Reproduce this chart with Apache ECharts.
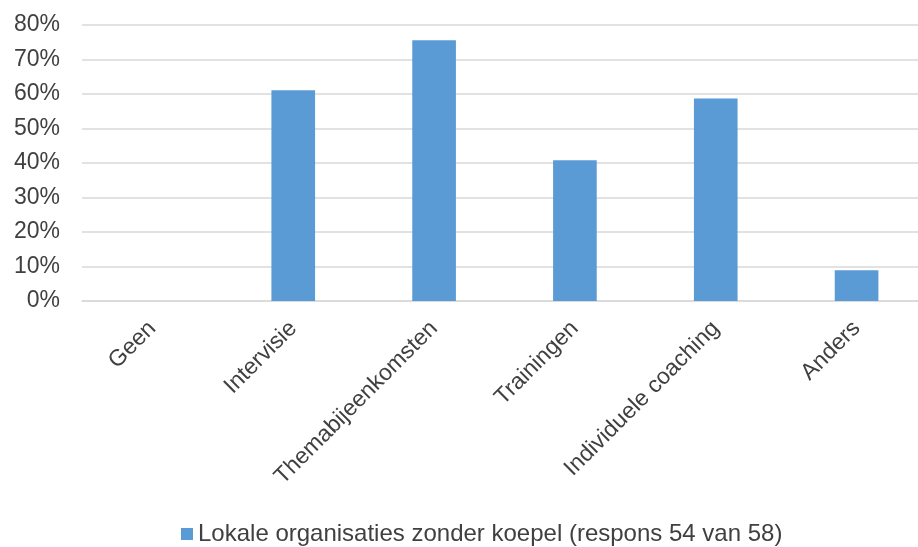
<!DOCTYPE html>
<html>
<head>
<meta charset="utf-8">
<script src="https://cdn.jsdelivr.net/npm/echarts@6/dist/echarts.min.js"></script>
<style>
  html, body { margin: 0; padding: 0; background: #fff; overflow: hidden; }
  /* plot area runs slightly past the right edge of the picture */
  #chart { width: 930px; height: 547px; }
</style>
</head>
<body>
<div id="chart"></div>
<script>
const categories = ['Geen', 'Intervisie', 'Themabijeenkomsten', 'Trainingen', 'Individuele coaching', 'Anders'];
const seriesName = 'Lokale organisaties zonder koepel (respons 54 van 58)';
const values = [0, 61.1, 75.6, 40.8, 58.7, 8.9];
const yTicks = [0, 10, 20, 30, 40, 50, 60, 70, 80];

let myChart = echarts.init(document.getElementById('chart'));

let option = {
    animation: false,
    grid: {
        left: 82,
        top: 25,
        width: 845,
        height: 276
    },
    legend: {
        data: [seriesName],
        left: 176,
        top: 517,
        itemWidth: 12,
        itemHeight: 12,
        itemGap: 4,
        icon: 'rect',
        textStyle: {
            fontFamily: 'Liberation Sans',
            fontSize: 24,
            color: '#404040'
        }
    },
    xAxis: {
        type: 'category',
        data: categories,
        axisLine: { lineStyle: { color: '#d9d9d9', width: 1.5 } },
        axisTick: { show: false },
        axisLabel: {
            rotate: 45,
            margin: 24,
            fontFamily: 'Liberation Sans',
            fontSize: 23,
            color: '#404040'
        }
    },
    yAxis: {
        type: 'value',
        min: yTicks[0],
        max: yTicks[yTicks.length - 1],
        interval: 10,
        axisLine: { show: false },
        axisTick: { show: false },
        splitLine: { lineStyle: { color: '#d9d9d9', width: 1.5 } },
        axisLabel: {
            margin: 22,
            fontFamily: 'Liberation Sans',
            fontSize: 23,
            color: '#404040',
            formatter: v => v + '%'
        }
    },
    series: [
        {
            name: seriesName,
            type: 'bar',
            barWidth: '31%',
            itemStyle: { color: '#5b9bd5' },
            data: values
        }
    ]
};

myChart.setOption(option);
</script>
</body>
</html>
